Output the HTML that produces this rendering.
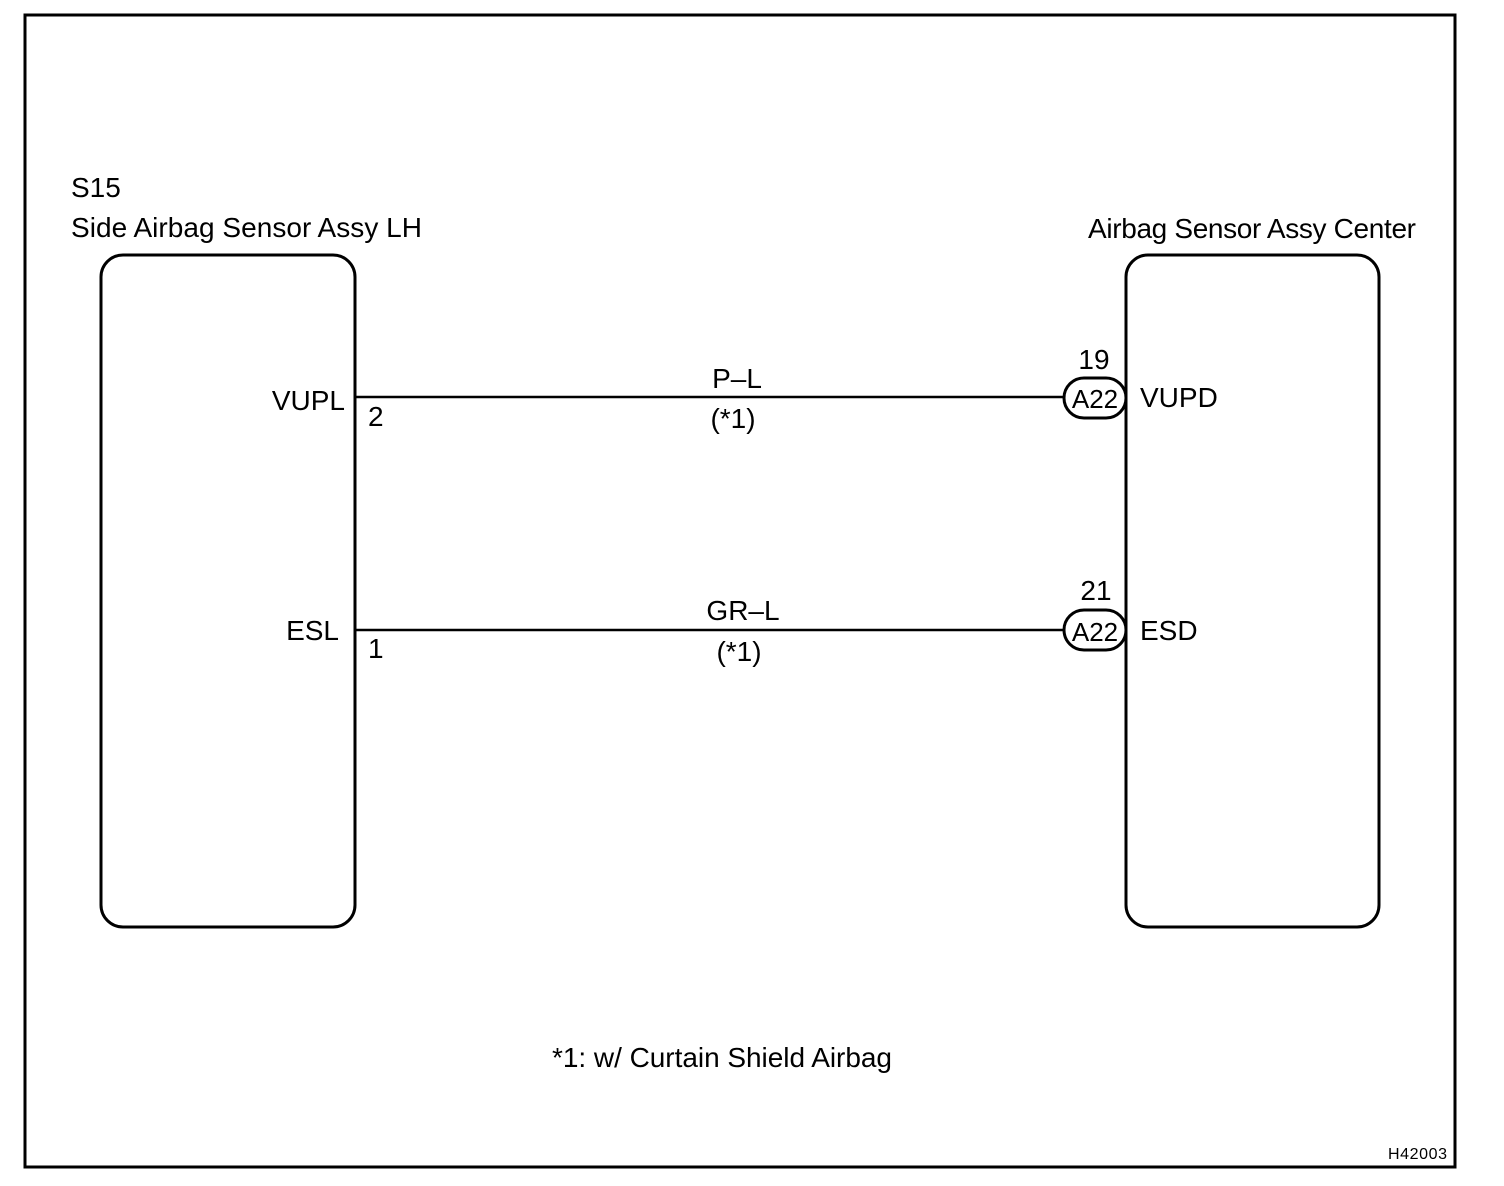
<!DOCTYPE html>
<html><head><meta charset="utf-8"><style>
html,body{margin:0;padding:0;background:#fff;}
svg{display:block;}
text{font-family:"Liberation Sans",Arial,sans-serif;fill:#000;}
</style></head><body>
<svg width="1504" height="1186" viewBox="0 0 1504 1186" xmlns="http://www.w3.org/2000/svg">
<rect x="25" y="15" width="1430" height="1152" fill="none" stroke="#000" stroke-width="3"/>
<rect x="101" y="255" width="254" height="672" rx="22" fill="none" stroke="#000" stroke-width="3"/>
<rect x="1126" y="255" width="253" height="672" rx="22" fill="none" stroke="#000" stroke-width="3"/>
<line x1="355" y1="397" x2="1064" y2="397" stroke="#000" stroke-width="2.5"/>
<line x1="355" y1="630" x2="1064" y2="630" stroke="#000" stroke-width="2.5"/>
<rect x="1064" y="378" width="62" height="40" rx="20" fill="#fff" stroke="#000" stroke-width="3"/>
<rect x="1064" y="610" width="62" height="40" rx="20" fill="#fff" stroke="#000" stroke-width="3"/>
<g font-size="28">
<text x="71" y="197">S15</text>
<text x="71" y="237" textLength="351">Side Airbag Sensor Assy LH</text>
<text x="1088" y="238" textLength="328">Airbag Sensor Assy Center</text>
<text x="345" y="410" text-anchor="end">VUPL</text>
<text x="368" y="426">2</text>
<text x="339" y="640" text-anchor="end">ESL</text>
<text x="368" y="658">1</text>
<text x="737" y="388" text-anchor="middle">P–L</text>
<text x="733" y="428" text-anchor="middle">(*1)</text>
<text x="743" y="620" text-anchor="middle">GR–L</text>
<text x="739" y="661" text-anchor="middle">(*1)</text>
<text x="1094" y="369" text-anchor="middle">19</text>
<text x="1096" y="600" text-anchor="middle">21</text>
<text x="1095" y="408" text-anchor="middle" font-size="26">A22</text>
<text x="1095" y="641" text-anchor="middle" font-size="26">A22</text>
<text x="1140" y="407">VUPD</text>
<text x="1140" y="640">ESD</text>
<text x="552" y="1067" textLength="340">*1: w/ Curtain Shield Airbag</text>
</g>
<text x="1388" y="1159" font-size="16" textLength="59">H42003</text>
</svg>
</body></html>
